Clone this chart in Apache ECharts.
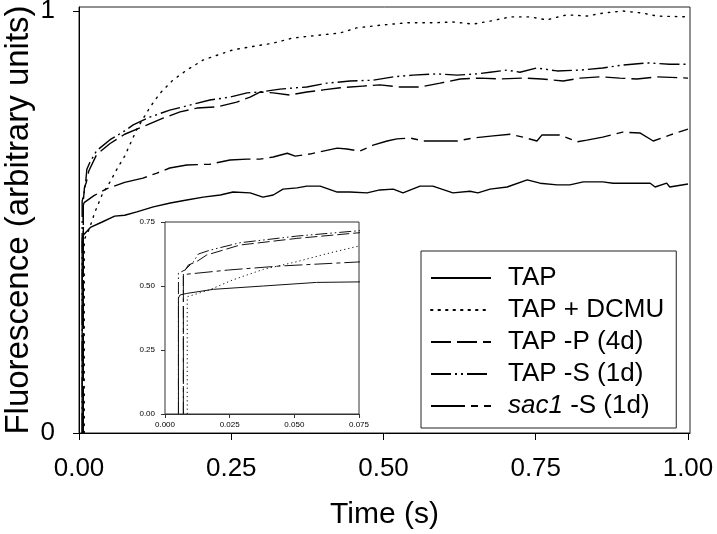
<!DOCTYPE html>
<html>
<head>
<meta charset="utf-8">
<script src="https://cdn.jsdelivr.net/npm/echarts@6/dist/echarts.min.js"></script>
<style>html,body{margin:0;padding:0;background:#fff}#c{width:717px;height:534px}</style>
</head>
<body>
<div id="c"></div>
<script>
// ---- data (time in s, fluorescence in arbitrary units) ----
const seriesNames = ['TAP', 'TAP + DCMU', 'TAP -P (4d)', 'TAP -S (1d)', 'sac1 -S (1d)'];

const tTAP = [0.0052, 0.0052, 0.0058, 0.0084, 0.0187, 0.038, 0.0586, 0.075, 0.095, 0.122, 0.15, 0.177, 0.204, 0.232, 0.253, 0.281, 0.302, 0.319, 0.335, 0.358, 0.374, 0.396, 0.424, 0.445, 0.473, 0.494, 0.516, 0.532, 0.560, 0.581, 0.614, 0.642, 0.655, 0.675, 0.703, 0.736, 0.757, 0.785, 0.806, 0.828, 0.860, 0.877, 0.938, 0.946, 0.965, 0.970, 1.0];
const vTAP = [0, 0.453, 0.465, 0.471, 0.487, 0.500, 0.514, 0.516, 0.524, 0.536, 0.545, 0.552, 0.559, 0.564, 0.571, 0.569, 0.559, 0.564, 0.578, 0.581, 0.585, 0.585, 0.571, 0.571, 0.569, 0.576, 0.578, 0.569, 0.585, 0.585, 0.569, 0.573, 0.569, 0.578, 0.583, 0.600, 0.592, 0.588, 0.588, 0.595, 0.595, 0.592, 0.592, 0.583, 0.592, 0.583, 0.590];

const tDCMU = [0.0086, 0.0086, 0.017, 0.026, 0.038, 0.051, 0.064, 0.075, 0.095, 0.117, 0.133, 0.154, 0.177, 0.204, 0.253, 0.319, 0.351, 0.396, 0.429, 0.456, 0.499, 0.539, 0.581, 0.614, 0.647, 0.675, 0.708, 0.741, 0.768, 0.801, 0.834, 0.860, 0.893, 0.926, 0.949, 1.0];
const vDCMU = [0, 0.458, 0.484, 0.523, 0.565, 0.595, 0.630, 0.656, 0.720, 0.773, 0.805, 0.836, 0.860, 0.884, 0.908, 0.924, 0.936, 0.943, 0.948, 0.960, 0.967, 0.972, 0.972, 0.974, 0.969, 0.976, 0.986, 0.986, 0.979, 0.991, 0.988, 0.995, 1.0, 0.995, 0.988, 0.986];

const tP = [0.0071, 0.0071, 0.009, 0.0122, 0.0161, 0.029, 0.051, 0.075, 0.112, 0.138, 0.166, 0.194, 0.227, 0.259, 0.281, 0.297, 0.319, 0.346, 0.374, 0.401, 0.429, 0.466, 0.494, 0.527, 0.560, 0.593, 0.626, 0.658, 0.690, 0.729, 0.760, 0.795, 0.823, 0.856, 0.888, 0.916, 0.949, 1.0];
const vP = [0, 0.550, 0.582, 0.595, 0.621, 0.660, 0.686, 0.708, 0.730, 0.746, 0.761, 0.770, 0.773, 0.784, 0.796, 0.808, 0.806, 0.801, 0.808, 0.813, 0.818, 0.822, 0.825, 0.820, 0.820, 0.829, 0.839, 0.841, 0.839, 0.841, 0.839, 0.834, 0.841, 0.844, 0.841, 0.839, 0.844, 0.841];

const tS = [0.0052, 0.0052, 0.0077, 0.011, 0.0129, 0.0174, 0.029, 0.051, 0.075, 0.089, 0.117, 0.149, 0.182, 0.215, 0.248, 0.276, 0.297, 0.33, 0.374, 0.407, 0.445, 0.483, 0.516, 0.548, 0.588, 0.621, 0.654, 0.675, 0.703, 0.724, 0.752, 0.785, 0.823, 0.860, 0.893, 0.933, 0.970, 1.0];
const vS = [0, 0.550, 0.5625, 0.595, 0.625, 0.640, 0.669, 0.695, 0.716, 0.730, 0.749, 0.765, 0.777, 0.789, 0.796, 0.806, 0.808, 0.815, 0.820, 0.829, 0.834, 0.836, 0.844, 0.848, 0.851, 0.848, 0.851, 0.855, 0.860, 0.855, 0.865, 0.858, 0.860, 0.865, 0.872, 0.877, 0.874, 0.874];

const tSac = [0.0071, 0.0071, 0.0084, 0.0245, 0.0444, 0.075, 0.105, 0.128, 0.149, 0.177, 0.215, 0.248, 0.276, 0.297, 0.319, 0.342, 0.355, 0.379, 0.401, 0.424, 0.440, 0.461, 0.483, 0.506, 0.522, 0.544, 0.565, 0.593, 0.621, 0.647, 0.680, 0.708, 0.729, 0.752, 0.760, 0.790, 0.818, 0.834, 0.860, 0.893, 0.921, 0.943, 0.970, 1.0];
const vSac = [0, 0.540, 0.546, 0.5625, 0.578, 0.594, 0.604, 0.616, 0.628, 0.635, 0.637, 0.647, 0.649, 0.649, 0.654, 0.663, 0.656, 0.661, 0.668, 0.675, 0.673, 0.668, 0.682, 0.692, 0.697, 0.699, 0.692, 0.692, 0.692, 0.699, 0.704, 0.708, 0.701, 0.692, 0.706, 0.706, 0.690, 0.694, 0.701, 0.713, 0.711, 0.692, 0.706, 0.720];

const mainXTicks = [0, 0.25, 0.5, 0.75, 1.0];
const mainYTicks = [0, 1];

// ---- chart ----
const FONT = "'Liberation Sans', Arial, Helvetica, sans-serif";
const dashes = ['solid', [1.5, 6], [20, 6], [20, 4, 2, 4, 2, 4], [34, 6, 7, 6]];
const insetDashes = ['solid', [1.2, 3], [12, 4], [12, 3, 1.5, 3, 1.5, 3], [18, 4, 4, 4]];
const tArr = [tTAP, tDCMU, tP, tS, tSac];
const vArr = [vTAP, vDCMU, vP, vS, vSac];
const pairs = (t, v) => t.map((x, i) => [x, v[i]]);

const series = [];
seriesNames.forEach((name, i) => {
  series.push({
    name, type: 'line', xAxisIndex: 0, yAxisIndex: 0,
    data: pairs(tArr[i], vArr[i]), symbol: 'none', showSymbol: false,
    lineStyle: { color: '#000', width: 1.4, type: dashes[i], cap: i === 1 ? 'round' : 'butt' },
    itemStyle: { color: '#000' }, animation: false, clip: true, z: 3
  });
});
seriesNames.forEach((name, i) => {
  series.push({
    name: name + ' ', type: 'line', xAxisIndex: 1, yAxisIndex: 1,
    data: pairs(tArr[i], vArr[i]), symbol: 'none', showSymbol: false,
    lineStyle: { color: '#111', width: 1, type: insetDashes[i] },
    itemStyle: { color: '#000' }, animation: false, clip: true, z: 5
  });
});

const chart = echarts.init(document.getElementById('c'), null, { renderer: 'canvas' });
chart.setOption({
  backgroundColor: '#fff',
  animation: false,
  textStyle: { fontFamily: FONT, color: '#000' },
  grid: [
    { left: 79, right: 27, top: 7, bottom: 101, show: true, borderColor: '#222', borderWidth: 1, backgroundColor: 'transparent', containLabel: false, outerBoundsMode: 'none' },
    { left: 165, right: 358, top: 222, bottom: 120, show: true, borderColor: '#333', borderWidth: 1, backgroundColor: '#fff', z: 4, containLabel: false, outerBoundsMode: 'none' }
  ],
  xAxis: [
    {
      type: 'value', gridIndex: 0, min: 0, max: 1.0033,
      name: 'Time (s)', nameLocation: 'middle', nameGap: 67, nameMoveOverlap: false,
      nameTextStyle: { fontSize: 30, fontFamily: FONT, color: '#000' },
      axisLine: { show: true, lineStyle: { color: '#000', width: 1 } },
      axisTick: { show: true, inside: false, length: 7, customValues: mainXTicks, lineStyle: { color: '#000' } },
      axisLabel: { customValues: mainXTicks, fontSize: 26, margin: 23, color: '#000', fontFamily: FONT, formatter: v => v.toFixed(2) },
      splitLine: { show: false }
    },
    {
      type: 'value', gridIndex: 1, min: 0, max: 0.075, interval: 0.025,
      axisLine: { show: true, lineStyle: { color: '#333', width: 1 } },
      axisTick: { show: true, inside: false, length: 4, lineStyle: { color: '#333' } },
      axisLabel: { fontSize: 8, margin: 7, color: '#000', fontFamily: FONT, formatter: v => v.toFixed(3) },
      splitLine: { show: false }
    }
  ],
  yAxis: [
    {
      type: 'value', gridIndex: 0, min: 0, max: 1.0095,
      name: 'Fluorescence (arbitrary units)', nameLocation: 'middle', nameGap: 44, nameRotate: 90, nameMoveOverlap: false,
      nameTextStyle: { fontSize: 33, fontFamily: FONT, color: '#000' },
      axisLine: { show: true, lineStyle: { color: '#000', width: 1 } },
      axisTick: { show: true, inside: false, length: 6, customValues: mainYTicks, lineStyle: { color: '#000' } },
      axisLabel: { customValues: mainYTicks, fontSize: 26, margin: 24, color: '#000', fontFamily: FONT, formatter: v => String(Math.round(v)) },
      splitLine: { show: false }
    },
    {
      type: 'value', gridIndex: 1, min: 0, max: 0.75, interval: 0.25,
      axisLine: { show: true, lineStyle: { color: '#333', width: 1 } },
      axisTick: { show: true, inside: false, length: 4, lineStyle: { color: '#333' } },
      axisLabel: { fontSize: 8, margin: 10, color: '#000', fontFamily: FONT, formatter: v => v.toFixed(2) },
      splitLine: { show: false }
    }
  ],
  legend: {
    show: true, orient: 'vertical', left: 421, top: 251,
    data: seriesNames,
    backgroundColor: '#fff', borderColor: '#222', borderWidth: 1,
    padding: [14, 12, 9, 9], itemGap: 6, itemWidth: 60, itemHeight: 14,
    itemStyle: { opacity: 0 },
    selectedMode: false,
    textStyle: {
      fontSize: 26, fontFamily: FONT, color: '#000', padding: [0, 0, 0, 12],
      rich: { i: { fontSize: 26, fontFamily: FONT, fontStyle: 'italic', color: '#000' }, n: { fontSize: 26, fontFamily: FONT, color: '#000' } }
    },
    formatter: name => name.startsWith('sac1') ? '{i|sac1}{n|' + name.slice(4) + '}' : name
  },
  series
});
</script>
</body>
</html>
